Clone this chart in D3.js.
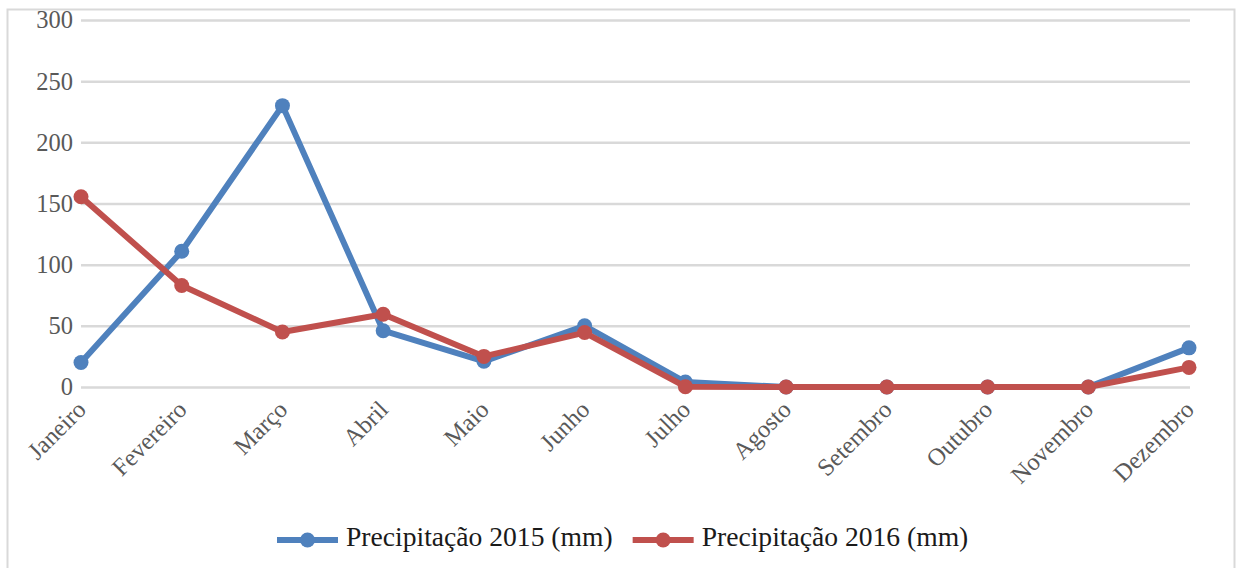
<!DOCTYPE html>
<html>
<head>
<meta charset="utf-8">
<script src="https://cdn.jsdelivr.net/npm/d3@7"></script>
<style>
  html, body { margin: 0; padding: 0; background: #fff; }
  svg { display: block; }
</style>
</head>
<body>
<svg id="chart" width="1237" height="568"></svg>
<script>
// Monthly rainfall, 2015 vs 2016
const months = ["Janeiro", "Fevereiro", "Março", "Abril", "Maio", "Junho",
                "Julho", "Agosto", "Setembro", "Outubro", "Novembro", "Dezembro"];
const rain2015 = [20, 111, 230, 46, 21, 50, 4, 0, 0, 0, 0, 32];
const rain2016 = [155.5, 83, 45, 59.5, 25, 44.5, 0.3, 0, 0, 0, 0, 16];
const yTicks = [0, 50, 100, 150, 200, 250, 300];
const seriesNames = ["Precipitação 2015 (mm)", "Precipitação 2016 (mm)"];
const seriesColors = ["#4F81BD", "#C0504D"];

const svg = d3.select("#chart");
const font = "'Liberation Serif', serif";

// outer frame
svg.append("rect")
  .attr("x", 7.5).attr("y", 9.5)
  .attr("width", 1227).attr("height", 580)
  .attr("fill", "#fff")
  .attr("stroke", "#d9d9d9").attr("stroke-width", 2);

const x = d3.scalePoint().domain(months).range([81, 1189]);
const y = d3.scaleLinear().domain([0, 300]).range([387, 20]);

// horizontal grid + y tick labels
const yAxis = d3.axisLeft(y).tickValues(yTicks).tickSize(0).tickPadding(8);
const gy = svg.append("g").attr("transform", "translate(81,0)").call(yAxis);
gy.select(".domain").remove();
gy.selectAll("text")
  .attr("font-family", font).attr("font-size", 24.5)
  .attr("fill", "#595959");
gy.selectAll(".tick").append("line")
  .attr("x1", 0).attr("x2", 1190 - 81)
  .attr("stroke", "#d9d9d9").attr("stroke-width", 2.5);

// x category labels, rotated
const xAxis = d3.axisBottom(x).tickSize(0).tickPadding(0);
const gx = svg.append("g").attr("transform", "translate(0,387)").call(xAxis);
gx.select(".domain").remove();
gx.selectAll("text")
  .attr("font-family", font).attr("font-size", 24.5)
  .attr("fill", "#595959")
  .attr("text-anchor", "end")
  .attr("dy", null).attr("y", 0)
  .attr("transform", "translate(2,20) rotate(-45)")
  .attr("dominant-baseline", "middle");

// series lines and markers
const series = [rain2015, rain2016];
const line = d3.line().x((d, i) => x(months[i])).y(d => y(d));
series.forEach((vals, s) => {
  svg.append("path")
    .datum(vals)
    .attr("d", line)
    .attr("fill", "none")
    .attr("stroke", seriesColors[s])
    .attr("stroke-width", 6)
    .attr("stroke-linejoin", "round");
  svg.append("g").selectAll("circle")
    .data(vals)
    .join("circle")
    .attr("cx", (d, i) => x(months[i]))
    .attr("cy", d => y(d))
    .attr("r", 7.5)
    .attr("fill", seriesColors[s]);
});

// legend
const legend = svg.append("g");
let lx = 277;
const ly = 540;
seriesNames.forEach((name, s) => {
  const g = legend.append("g");
  g.append("line")
    .attr("x1", lx).attr("x2", lx + 61)
    .attr("y1", ly).attr("y2", ly)
    .attr("stroke", seriesColors[s]).attr("stroke-width", 6);
  g.append("circle")
    .attr("cx", lx + 30.5).attr("cy", ly).attr("r", 7.5)
    .attr("fill", seriesColors[s]);
  const t = g.append("text")
    .attr("x", lx + 69).attr("y", ly)
    .attr("dominant-baseline", "middle")
    .attr("font-family", font).attr("font-size", 27.6)
    .attr("fill", "#1a1a1a")
    .text(name);
  lx += 69 + t.node().getComputedTextLength() + 20;
});
</script>
</body>
</html>
